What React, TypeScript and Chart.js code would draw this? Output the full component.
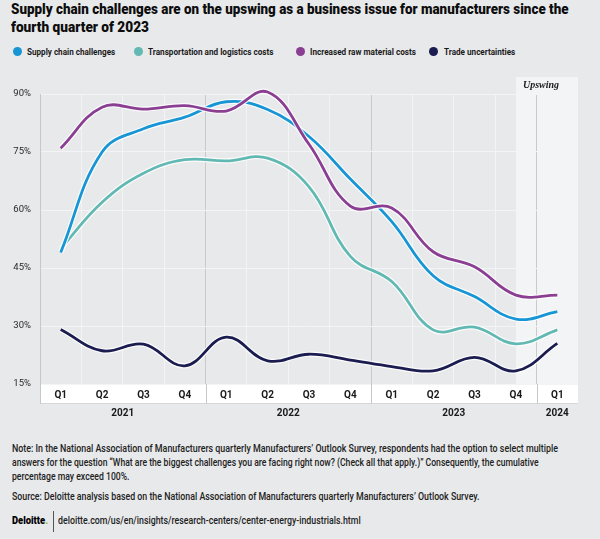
import React, { useEffect, useLayoutEffect, useRef } from 'react';
import { Chart, registerables } from 'chart.js';

Chart.register(...registerables);

// ---------- data ----------
const quarters = ['Q1', 'Q2', 'Q3', 'Q4', 'Q1', 'Q2', 'Q3', 'Q4', 'Q1', 'Q2', 'Q3', 'Q4', 'Q1'];
const years = ['2021', '2022', '2023', '2024'];
const yearSpans = [4, 4, 4, 1];
const supplyChain = [49, 75, 81, 84, 88, 86, 79, 68, 57, 43, 37.6, 31.8, 33.7];
const transport = [50, 62, 69.5, 73, 72.7, 73.4, 66, 48, 41.5, 29, 29.7, 25.4, 29];
const rawMaterial = [76, 86.6, 86.1, 87, 85.6, 90.5, 77, 61, 60.5, 49.2, 45.3, 38, 38];
const trade = [29.1, 23.6, 25.3, 19.7, 27.1, 21, 22.7, 21.2, 19.5, 18.4, 21.9, 18.4, 25.5];
const yTicks = [15, 30, 45, 60, 75, 90];
const seriesNames = [
  'Supply chain challenges',
  'Transportation and logistics costs',
  'Increased raw material costs',
  'Trade uncertainties',
];
const seriesColors = ['#1795d4', '#62b8b2', '#8a3f93', '#1b1c50'];
const upswingLabel = 'Upswing';
const upswingStart = 11;

const titleLines = [
  'Supply chain challenges are on the upswing as a business issue for manufacturers since the',
  'fourth quarter of 2023',
];
const noteLines = [
  "Note: In the National Association of Manufacturers quarterly Manufacturers\u2019 Outlook Survey, respondents had the option to select multiple",
  'answers for the question \u201CWhat are the biggest challenges you are facing right now? (Check all that apply.)\u201D Consequently, the cumulative',
  'percentage may exceed 100%.',
];
const sourceText =
  "Source: Deloitte analysis based on the National Association of Manufacturers quarterly Manufacturers\u2019 Outlook Survey.";
const brandText = 'Deloitte';
const urlText = 'deloitte.com/us/en/insights/research-centers/center-energy-industrials.html';

// ---------- layout constants ----------
const BG = '#e8e9eb';
const CANVAS_TOP = 70;
const CW = 600;
const CH = 360;
const BAND_H = 19;

function FitText({ left, top, width, style, children }: any) {
  const ref = useRef<HTMLDivElement>(null);
  useLayoutEffect(() => {
    const el = ref.current;
    if (!el) return;
    el.style.transform = 'none';
    const w = el.getBoundingClientRect().width;
    if (w > 0) el.style.transform = `scaleX(${width / w})`;
  });
  return (
    <div
      ref={ref}
      style={{
        position: 'absolute',
        left,
        top,
        whiteSpace: 'nowrap',
        transformOrigin: '0 0',
        ...style,
      }}
    >
      {children}
    </div>
  );
}

const decorPlugin = {
  id: 'decor',
  beforeDraw(chart: any) {
    const { ctx, chartArea: a, scales } = chart;
    const x = scales.x;
    ctx.save();
    const ux = x.getPixelForValue(upswingStart);
    ctx.fillStyle = '#f3f4f6';
    ctx.fillRect(ux, a.top - 17, a.right - ux, a.bottom - a.top + 17);
    ctx.fillStyle = '#ffffff';
    ctx.fillRect(a.left, a.bottom, a.right - a.left, BAND_H);
    ctx.restore();
  },
  beforeDatasetsDraw(chart: any) {
    const { ctx, chartArea: a, scales } = chart;
    const x = scales.x;
    ctx.save();
    ctx.strokeStyle = '#d6d7d9';
    ctx.lineWidth = 1;
    ctx.beginPath();
    ctx.moveTo(a.left, a.bottom + BAND_H + 0.5);
    ctx.lineTo(a.right, a.bottom + BAND_H + 0.5);
    ctx.stroke();
    ctx.strokeStyle = '#c6c7c9';
    let start = 0;
    const edges: number[] = [a.left];
    yearSpans.forEach((n, i) => {
      if (i > 0) {
        const bx = (x.getPixelForValue(start - 1) + x.getPixelForValue(start)) / 2;
        edges.push(bx);
      }
      start += n;
    });
    edges.forEach((ex) => {
      const px = Math.round(ex) + 0.5;
      ctx.beginPath();
      ctx.moveTo(px, a.bottom);
      ctx.lineTo(px, a.bottom + BAND_H + 1);
      ctx.stroke();
    });
    ctx.fillStyle = '#1a1a1a';
    ctx.font = 'bold 10px Roboto, "Liberation Sans", sans-serif';
    ctx.textAlign = 'center';
    ctx.textBaseline = 'middle';
    start = 0;
    years.forEach((yr, i) => {
      const n = yearSpans[i];
      const cx = (x.getPixelForValue(start) + x.getPixelForValue(start + n - 1)) / 2;
      ctx.fillText(yr, cx, a.bottom + 29);
      start += n;
    });
    const ux = x.getPixelForValue(upswingStart);
    ctx.fillStyle = '#1a1a1a';
    ctx.font = 'italic bold 10px "Liberation Serif", "DejaVu Serif", serif';
    ctx.textAlign = 'left';
    ctx.fillText(upswingLabel, ux + 7, a.top - 8.5);
    ctx.restore();
  },
};

function ChartCanvas() {
  const ref = useRef<HTMLCanvasElement>(null);
  useEffect(() => {
    const canvas = ref.current;
    if (!canvas) return;
    const series = [
      { name: seriesNames[2], data: rawMaterial, color: seriesColors[2] },
      { name: seriesNames[0], data: supplyChain, color: seriesColors[0] },
      { name: seriesNames[1], data: transport, color: seriesColors[1] },
      { name: seriesNames[3], data: trade, color: seriesColors[3] },
    ];
    const datasets: any[] = [];
    series.forEach((s) => {
      datasets.push({
        label: s.name,
        data: s.data,
        borderColor: s.color,
        borderWidth: 2.8,
        pointRadius: 0,
        tension: 0.4,
        fill: false,
        clip: false,
      });
      datasets.push({
        label: s.name + ' halo',
        data: s.data,
        borderColor: 'rgba(255,255,255,0.85)',
        borderWidth: 5.2,
        pointRadius: 0,
        tension: 0.4,
        fill: false,
        clip: false,
      });
    });
    const chart = new Chart(canvas, {
      type: 'line',
      data: { labels: quarters, datasets },
      plugins: [decorPlugin],
      options: {
        responsive: false,
        devicePixelRatio: 1,
        animation: false,
        events: [],
        layout: { padding: { left: 0, right: 22, top: 24, bottom: 0 } },
        plugins: { legend: { display: false }, tooltip: { enabled: false }, title: { display: false } },
        scales: {
          x: {
            type: 'category',
            offset: true,
            grid: {
              offset: true,
              drawTicks: false,
              lineWidth: 1,
              color: (ctx: any) => {
                const i = ctx.index;
                if (i === undefined || i === null) return 'rgba(0,0,0,0)';
                if (i === 0 || i === 4 || i === 8 || i === 12) return '#c9cacc';
                return '#f3f4f5';
              },
            },
            border: { display: false },
            ticks: {
              padding: 5,
              autoSkip: false,
              maxRotation: 0,
              color: '#1a1a1a',
              font: { family: 'Roboto, "Liberation Sans", sans-serif', size: 10, weight: 'bold' },
            },
            afterFit: (axis: any) => {
              axis.height = 46;
            },
          },
          y: {
            min: 15,
            max: 90,
            afterBuildTicks: (axis: any) => {
              axis.ticks = yTicks.map((v) => ({ value: v }));
            },
            ticks: {
              padding: 9,
              color: '#2a2a2a',
              callback: (v: any) => v + '%',
              font: { family: 'Roboto, "Liberation Sans", sans-serif', size: 9.5 },
            },
            grid: { color: '#f3f4f5', lineWidth: 1, drawTicks: false },
            border: { display: true, color: '#c6c7c9', width: 1 },
            afterFit: (axis: any) => {
              axis.width = 40;
            },
          },
        },
      } as any,
    });
    return () => chart.destroy();
  }, []);
  return (
    <canvas
      ref={ref}
      width={CW}
      height={CH}
      style={{ position: 'absolute', left: 0, top: CANVAS_TOP, width: CW, height: CH }}
    />
  );
}

const legendPos = [
  { dot: 17, text: 26.8, w: 88.2 },
  { dot: 138, text: 147.5, w: 125.5 },
  { dot: 300, text: 309.6, w: 106 },
  { dot: 433.5, text: 443.7, w: 71.3 },
];

export default function App() {
  useEffect(() => {
    document.body.style.margin = '0';
  }, []);
  const font = 'Roboto, "Liberation Sans", sans-serif';
  const noteStyle = { fontSize: 10.5, lineHeight: '14px', color: '#222', fontWeight: 500 };
  return (
    <div
      style={{
        position: 'fixed',
        left: 0,
        top: 0,
        width: 600,
        height: 539,
        background: BG,
        overflow: 'hidden',
        fontFamily: font,
        color: '#1a1a1a',
      }}
    >
      <FitText left={11} top={1} width={557.5} style={{ fontSize: 14.5, fontWeight: 900, lineHeight: '18px', color: '#0d0d0d' }}>
        {titleLines[0]}
      </FitText>
      <FitText left={11} top={19} width={138} style={{ fontSize: 14.5, fontWeight: 900, lineHeight: '18px', color: '#0d0d0d' }}>
        {titleLines[1]}
      </FitText>

      {seriesNames.map((name, i) => (
        <React.Fragment key={name}>
          <div
            style={{
              position: 'absolute',
              left: legendPos[i].dot - 4.5,
              top: 47.2,
              width: 9,
              height: 9,
              borderRadius: '50%',
              background: seriesColors[i],
            }}
          />
          <FitText left={legendPos[i].text} top={45.8} width={legendPos[i].w} style={{ fontSize: 9.5, fontWeight: 700, lineHeight: '12px', color: '#1a1a1a' }}>
            {name}
          </FitText>
        </React.Fragment>
      ))}

      <ChartCanvas />

      <FitText left={11.5} top={441.6} width={546} style={noteStyle}>
        {noteLines[0]}
      </FitText>
      <FitText left={11.5} top={456} width={526.5} style={noteStyle}>
        {noteLines[1]}
      </FitText>
      <FitText left={11.5} top={470} width={117.5} style={noteStyle}>
        {noteLines[2]}
      </FitText>
      <FitText left={11.5} top={489.6} width={467.5} style={noteStyle}>
        {sourceText}
      </FitText>

      <FitText left={11.7} top={514} width={36} style={{ fontSize: 11, fontWeight: 900, lineHeight: '14px', color: '#000' }}>
        {brandText}
        <span style={{ color: '#86bc25' }}>.</span>
      </FitText>
      <div style={{ position: 'absolute', left: 53, top: 511, width: 1, height: 21, background: '#555' }} />
      <FitText left={58.3} top={514} width={302.7} style={noteStyle}>
        {urlText}
      </FitText>
    </div>
  );
}
